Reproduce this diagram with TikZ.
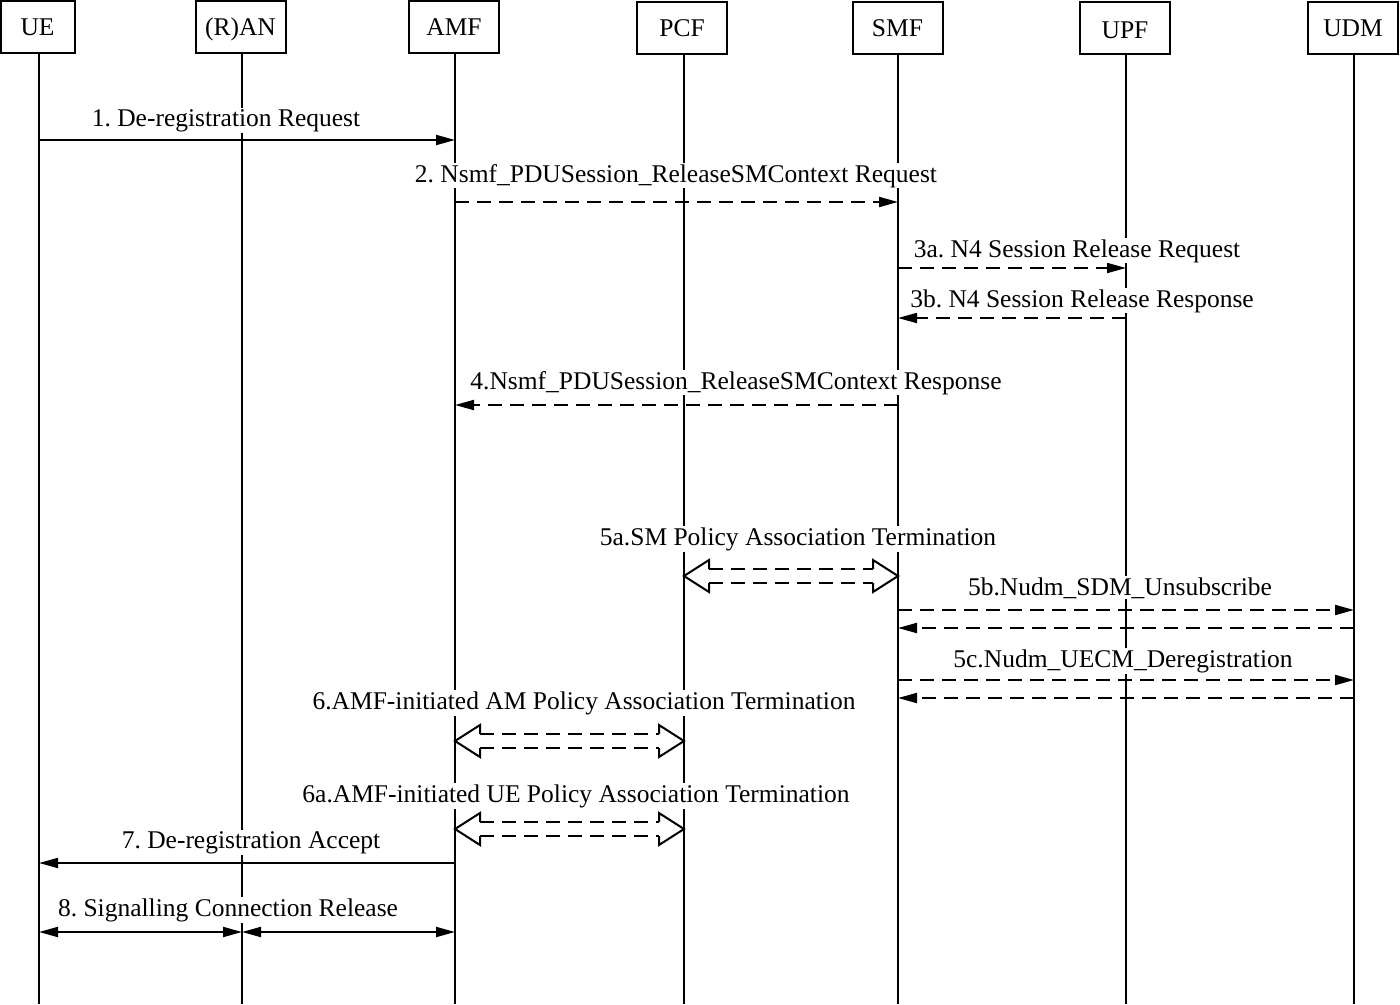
\documentclass[tikz,border=0pt]{standalone}
\usepackage{fontspec}
\setmainfont{Liberation Serif}
\usetikzlibrary{arrows.meta,calc}
\frenchspacing
\newcommand\holo[3]{%
  \draw[holh] ($(#1 |- 0,#3)+(25,-7)$) -- ++(0,-9) -- (#1 |- 0,#3) -- ++(25,16) -- ++(0,-9);
  \draw[holh] ($(#2 |- 0,#3)+(-25,-7)$) -- ++(0,-9) -- (#2 |- 0,#3) -- ++(-25,16) -- ++(0,-9);
  \draw[hol] ($(#1 |- 0,#3)+(25,-7)$) -- ($(#2 |- 0,#3)+(-25,-7)$);
  \draw[hol] ($(#1 |- 0,#3)+(25,7)$) -- ($(#2 |- 0,#3)+(-25,7)$);}
\begin{document}
\begin{tikzpicture}[x=1pt,y=-1pt,
  font=\fontsize{25.5}{30}\selectfont,
  ent/.style={draw,line width=2pt,minimum width=90pt,minimum height=52pt,inner sep=0pt,
    text height=17pt,text depth=0pt},
  life/.style={line width=2pt},
  tip/.tip={Triangle[length=19pt,width=10pt]},
  msg/.style={line width=2pt,-tip},
  dmsg/.style={msg,dash pattern=on 14pt off 8pt},
  bmsg/.style={line width=2pt,tip-tip},
  lbl/.style={fill=white,inner sep=1pt,anchor=base},
  hol/.style={line width=2pt,dash pattern=on 14pt off 8pt},
  holh/.style={line width=2pt,line join=miter}]
\useasboundingbox (0,0) rectangle (1400,1004);
% entities
\node[ent,minimum width=74pt] (UE) at (37.5,27) {UE};
\node[ent] (RAN) at (240.5,27) {(R)AN};
\node[ent] (AMF) at (454,27) {AMF};
\node[ent] (PCF) at (682,28) {PCF};
\node[ent] (SMF) at (897.5,28) {SMF};
\node[ent] (UPF) at (1125,28) {\raisebox{-2pt}{UPF}};
\node[ent] (UDM) at (1353,28) {UDM};
% lifelines
\coordinate (lue) at (39,1004);
\coordinate (lran) at (242,1004);
\coordinate (lamf) at (455,1004);
\coordinate (lpcf) at (684,1004);
\coordinate (lsmf) at (898,1004);
\coordinate (lupf) at (1126,1004);
\coordinate (ludm) at (1354,1004);
\draw[life] (lue |- UE.south) -- (lue);
\draw[life] (lran |- RAN.south) -- (lran);
\draw[life] (lamf |- AMF.south) -- (lamf);
\draw[life] (lpcf |- PCF.south) -- (lpcf);
\draw[life] (lsmf |- SMF.south) -- (lsmf);
\draw[life] (lupf |- UPF.south) -- (lupf);
\draw[life] (ludm |- UDM.south) -- (ludm);
% messages
\draw[msg] (lue |- 0,140) -- (lamf |- 0,140);
\draw[dmsg] (lamf |- 0,202) -- (lsmf |- 0,202);
\draw[dmsg] (lsmf |- 0,268) -- (lupf |- 0,268);
\draw[dmsg] (lupf |- 0,318) -- (lsmf |- 0,318);
\draw[dmsg] (lsmf |- 0,405) -- (lamf |- 0,405);
\holo{lpcf}{lsmf}{576}
\draw[dmsg] (lsmf |- 0,610) -- (ludm |- 0,610);
\draw[dmsg] (ludm |- 0,628) -- (lsmf |- 0,628);
\draw[dmsg] (lsmf |- 0,680) -- (ludm |- 0,680);
\draw[dmsg] (ludm |- 0,698) -- (lsmf |- 0,698);
\holo{lamf}{lpcf}{741}
\holo{lamf}{lpcf}{829}
\draw[msg] (lamf |- 0,863) -- (lue |- 0,863);
\draw[bmsg] (lue |- 0,932) -- (lran |- 0,932);
\draw[bmsg] (lran |- 0,932) -- (lamf |- 0,932);
% labels
\node[lbl] (t1) at (226,126) {1. De-registration Request};
\node[lbl] (t2) at (676,182) {2. Nsmf\_PDUSession\_ReleaseSMContext Request};
\node[lbl] (t3a) at (1077,257) {3a. N4 Session Release Request};
\node[lbl] (t3b) at (1082,307) {3b. N4 Session Release Response};
\node[lbl] (t4) at (736,389) {4.Nsmf\_PDUSession\_ReleaseSMContext Response};
\node[lbl] (t5a) at (798,545) {5a.SM Policy Association Termination};
\node[lbl] (t5b) at (1120,595) {5b.Nudm\_SDM\_Unsubscribe};
\node[lbl] (t5c) at (1123,667) {5c.Nudm\_UECM\_Deregistration};
\node[lbl] (t6) at (584,709) {6.AMF-initiated AM Policy Association Termination};
\node[lbl] (t6a) at (576,802) {6a.AMF-initiated UE Policy Association Termination};
\node[lbl] (t7) at (251,848) {7. De-registration Accept};
\node[lbl] (t8) at (228,916) {8. Signalling Connection Release};
\end{tikzpicture}
\end{document}
